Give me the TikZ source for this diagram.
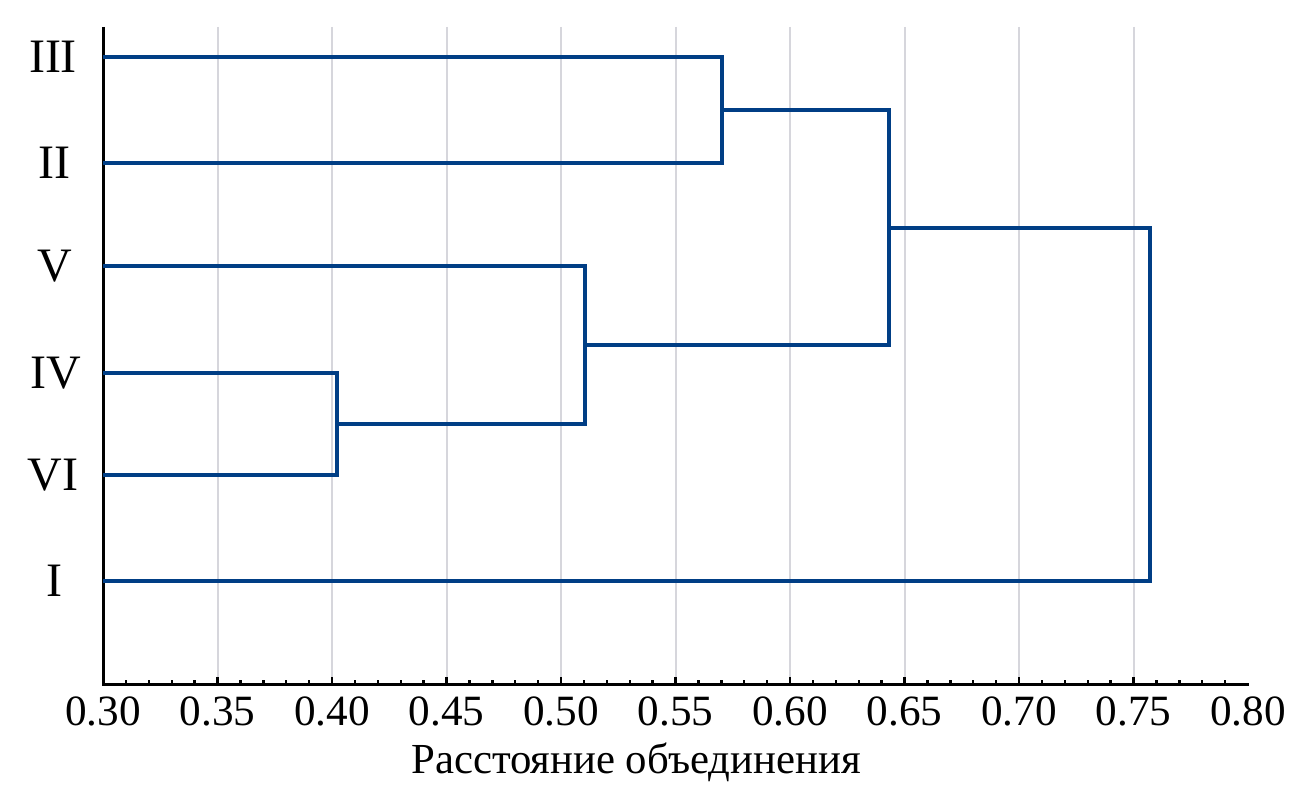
\documentclass[tikz,border=0pt]{standalone}
\usepackage{fontspec}
\setmainfont{Liberation Serif}
\definecolor{dendblue}{HTML}{003E85}
\definecolor{gridgray}{HTML}{D6D6DC}
\begin{document}
\begin{tikzpicture}[x=0.5pt,y=-0.5pt,
  dend/.style={draw=dendblue,line width=2.4pt,line join=miter,line cap=butt},
  axisline/.style={draw=black,line width=1.5pt},
  gridline/.style={draw=gridgray,line width=1pt},
  leaflabel/.style={font=\fontsize{24}{28}\selectfont,anchor=center,inner sep=0pt},
  ticklabel/.style={font=\fontsize{21.6}{25}\selectfont,anchor=center,inner sep=0pt},
  axislabel/.style={font=\fontsize{21.4}{25}\selectfont,anchor=base,inner sep=0pt}]
\useasboundingbox (0,0) rectangle (1311,786);
% grid
\foreach \i in {1,...,9} {
  \coordinate (gt\i) at ({103+114.5*\i},27);
  \coordinate (gb\i) at ({103+114.5*\i},684);
  \draw[gridline] (gt\i) -- (gb\i);
}
% axes
\coordinate (otop) at (103,27);
\coordinate (orig) at (103,684);
\coordinate (xend) at (1249,684);
\draw[axisline] (otop) -- (orig) -- (xend);
% ticks
\foreach \i in {1,...,49} {
  \coordinate (ta\i) at ({103+22.9*\i},684);
  \coordinate (tb\i) at ({103+22.9*\i},680);
  \draw[black,line width=1.2pt] (ta\i) -- (tb\i);
}
\foreach \i in {1,...,9} {
  \coordinate (ma\i) at ({103+114.5*\i},684);
  \coordinate (mb\i) at ({103+114.5*\i},677);
  \draw[black,line width=1.2pt] (ma\i) -- (mb\i);
}
% tick labels
\foreach \v [count=\i from 0] in {0.30,0.35,0.40,0.45,0.50,0.55,0.60,0.65,0.70,0.75,0.80} {
  \node[ticklabel] (tl\i) at ({103+114.5*\i},711) {\v};
}
\node[axislabel] (xlab) at (636,773) {Расстояние объединения};
% leaf labels
\node[leaflabel] (nIII) at (53,57) {III};
\node[leaflabel] (nII) at (54,163) {II};
\node[leaflabel] (nV) at (55,266) {V};
\node[leaflabel] (nIV) at (56,373) {IV};
\node[leaflabel] (nVI) at (53,475) {VI};
\node[leaflabel] (nI) at (54,581) {I};
% leaves
\coordinate (lIII) at (103,57);
\coordinate (lII) at (103,163);
\coordinate (lV) at (103,266);
\coordinate (lIV) at (103,373);
\coordinate (lVI) at (103,475);
\coordinate (lI) at (103,581);
% merges
\coordinate (a1) at (722,57);  \coordinate (b1) at (722,163); \coordinate (c1) at (722,110);
\coordinate (a2) at (337,373); \coordinate (b2) at (337,475); \coordinate (c2) at (337,424);
\coordinate (a3) at (585,266); \coordinate (b3) at (585,424); \coordinate (c3) at (585,345);
\coordinate (a4) at (889,110); \coordinate (b4) at (889,345); \coordinate (c4) at (889,228);
\coordinate (a5) at (1150,228); \coordinate (b5) at (1150,581);
\draw[dend] (lIII) -- (a1) -- (b1) -- (lII);
\draw[dend] (lIV) -- (a2) -- (b2) -- (lVI);
\draw[dend] (lV) -- (a3) -- (b3) -- (c2);
\draw[dend] (c1) -- (a4) -- (b4) -- (c3);
\draw[dend] (c4) -- (a5) -- (b5) -- (lI);
\end{tikzpicture}
\end{document}
